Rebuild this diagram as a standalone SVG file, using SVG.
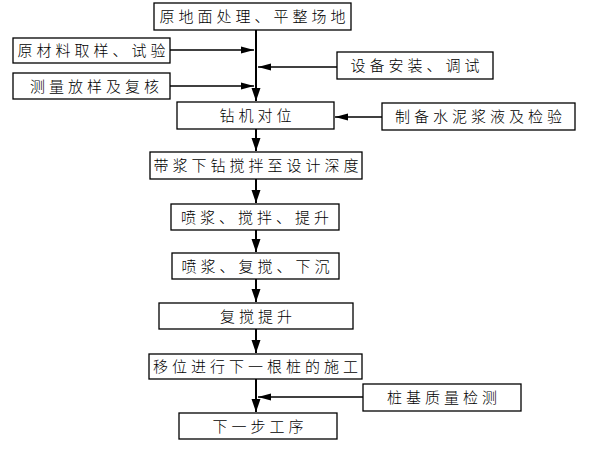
<svg xmlns="http://www.w3.org/2000/svg" width="600" height="450" viewBox="0 0 600 450">
<style>
.box{fill:#fff;stroke:#000;stroke-width:1.3}
.t{font-family:"Noto Sans CJK SC","Liberation Sans",sans-serif;font-size:15px;font-weight:300;letter-spacing:4px;text-anchor:middle;fill:#000}
.main{stroke:#000;stroke-width:2;fill:none}
.side{stroke:#000;stroke-width:1.3;fill:none}
</style>
<defs>
<marker id="ah" markerUnits="userSpaceOnUse" markerWidth="14" markerHeight="10" refX="13" refY="5" orient="auto">
<path d="M0,1.5 L13,5 L0,8.5 Z" fill="#000"/>
</marker>
<marker id="av" markerUnits="userSpaceOnUse" markerWidth="14" markerHeight="12" refX="13" refY="6" orient="auto">
<path d="M0,1.5 L13,6 L0,10.5 Z" fill="#000"/>
</marker>
</defs>
<g id="connectors">
<path class="main" d="M256,30 V101" marker-end="url(#av)"/>
<path class="side" d="M170,50 H254" marker-end="url(#ah)"/>
<path class="side" d="M170,86 H254" marker-end="url(#ah)"/>
<path class="side" d="M337,67 H258" marker-end="url(#ah)"/>
<path class="side" d="M382,117 H335" marker-end="url(#ah)"/>
<path class="main" d="M256,129 V151" marker-end="url(#av)"/>
<path class="main" d="M256,179 V203" marker-end="url(#av)"/>
<path class="main" d="M256,230 V252" marker-end="url(#av)"/>
<path class="main" d="M256,279 V302" marker-end="url(#av)"/>
<path class="main" d="M256,329 V353" marker-end="url(#av)"/>
<path class="main" d="M256,379 V412" marker-end="url(#av)"/>
<path class="side" d="M363,397 H258" marker-end="url(#ah)"/>
</g>
<g id="n1"><rect class="box" x="154" y="3" width="197" height="27"/><text class="t" x="254.5" y="22">原地面处理、平整场地</text></g>
<g id="n2"><rect class="box" x="13" y="38" width="157" height="25"/><text class="t" x="93.5" y="56">原材料取样、试验</text></g>
<g id="n3"><rect class="box" x="13" y="73" width="157" height="26"/><text class="t" x="96.5" y="91.5">测量放样及复核</text></g>
<g id="n4"><rect class="box" x="337" y="52" width="156" height="27"/><text class="t" x="417" y="71">设备安装、调试</text></g>
<g id="n5"><rect class="box" x="177" y="102" width="157" height="27"/><text class="t" x="257.5" y="121">钻机对位</text></g>
<g id="n6"><rect class="box" x="382" y="103" width="193" height="27"/><text class="t" x="480.5" y="122">制备水泥浆液及检验</text></g>
<g id="n7"><rect class="box" x="150" y="152" width="212" height="27"/><text class="t" x="258" y="171">带浆下钻搅拌至设计深度</text></g>
<g id="n8"><rect class="box" x="171" y="204" width="168" height="26"/><text class="t" x="257" y="222.5">喷浆、搅拌、提升</text></g>
<g id="n9"><rect class="box" x="172" y="253" width="167" height="26"/><text class="t" x="257.5" y="271.5">喷浆、复搅、下沉</text></g>
<g id="n10"><rect class="box" x="159" y="303" width="194" height="26"/><text class="t" x="258" y="321.5">复搅提升</text></g>
<g id="n11"><rect class="box" x="149" y="354" width="213" height="25"/><text class="t" x="257.5" y="372">移位进行下一根桩的施工</text></g>
<g id="n12"><rect class="box" x="363" y="384" width="158" height="27"/><text class="t" x="444" y="403">桩基质量检测</text></g>
<g id="n13"><rect class="box" x="179" y="413" width="158" height="26"/><text class="t" x="260" y="431.5">下一步工序</text></g>
</svg>
